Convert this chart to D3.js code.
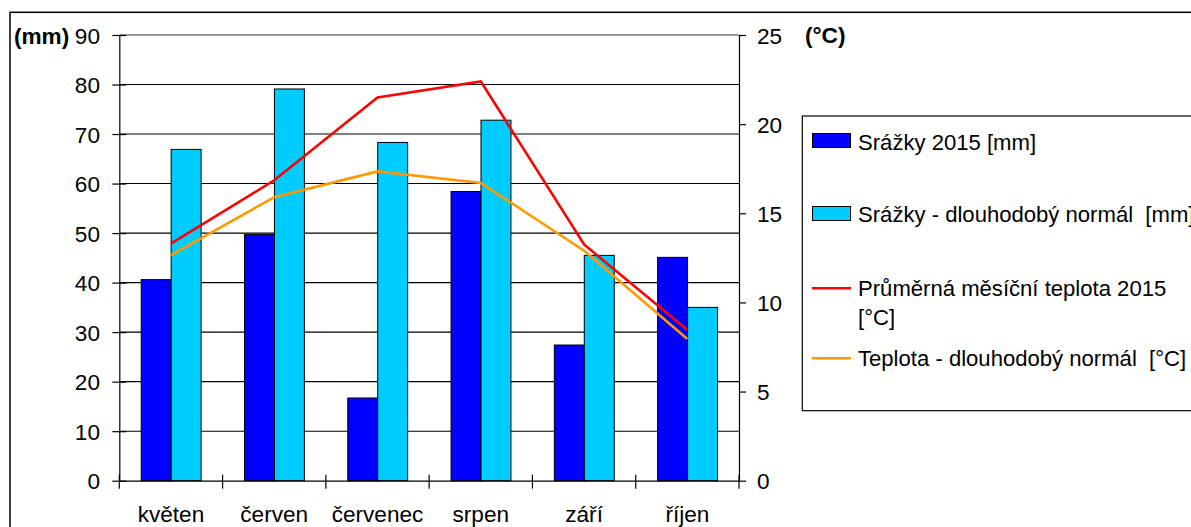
<!DOCTYPE html>
<html><head><meta charset="utf-8">
<script src="https://cdn.jsdelivr.net/npm/d3@7"></script>
<style>
html,body{margin:0;padding:0;background:#fff;}
svg{display:block;font-family:"Liberation Sans",Arial,sans-serif;}
text{white-space:pre;}
</style></head>
<body>
<svg id="chart" width="1191" height="527"></svg>
<script>
const categories = ["květen","červen","červenec","srpen","září","říjen"];
const rain2015 = [40.6, 49.7, 16.7, 58.4, 27.4, 45.1];
const rainNormal = [66.9, 79.1, 68.3, 72.8, 45.5, 35.0];
const temp2015 = [13.3, 16.85, 21.5, 22.4, 13.25, 8.45];
const tempNormal = [12.65, 15.9, 17.35, 16.7, 12.9, 7.95];
const mmTicks = [0,10,20,30,40,50,60,70,80,90];
const cTicks = [0,5,10,15,20,25];
const seriesNames = ["Srážky 2015 [mm]","Srážky - dlouhodobý normál  [mm]","Průměrná měsíční teplota 2015","Teplota - dlouhodobý normál  [°C]"];
const colors = {r15:"#0000ff", rN:"#00ccff", t15:"#ff0000", tN:"#ff9900"};

const svg = d3.select("#chart");
const L = 119.3, R = 739, T = 35, B = 480.7;
const FS = 22.6;
const LFS = 22.1;

// outer border
svg.append("rect").attr("x",10).attr("y",12.3).attr("width",1200).attr("height",540)
  .attr("fill","none").attr("stroke","#000").attr("stroke-width",1.5);

const x0 = d3.scaleBand().domain(categories).range([L,R]).padding(0);
const bw = x0.bandwidth();
const x1 = d3.scaleBand().domain(["r15","rN"]).range([bw*0.212, bw*0.792]).padding(0);
const yL = d3.scaleLinear().domain([0,90]).range([B,T]);
const yR = d3.scaleLinear().domain([0,25]).range([B,T]);

// gridlines
svg.append("g").selectAll("line").data(mmTicks.filter(d=>d>0)).join("line")
  .attr("x1",L).attr("x2",R).attr("y1",d=>yL(d)).attr("y2",d=>yL(d))
  .attr("stroke",d=>d===90?"#777":"#000").attr("stroke-width",d=>d===90?1.6:1.1);

// bars
const groups = svg.append("g").selectAll("g").data(categories).join("g")
  .attr("transform",d=>`translate(${x0(d)},0)`);
groups.append("rect").attr("x",x1("r15")).attr("width",x1.bandwidth())
  .attr("y",(d,i)=>yL(rain2015[i])).attr("height",(d,i)=>B-yL(rain2015[i]))
  .attr("fill",colors.r15).attr("stroke","#000").attr("stroke-width",1);
groups.append("rect").attr("x",x1("rN")).attr("width",x1.bandwidth())
  .attr("y",(d,i)=>yL(rainNormal[i])).attr("height",(d,i)=>B-yL(rainNormal[i]))
  .attr("fill",colors.rN).attr("stroke","#000").attr("stroke-width",1);

// axes
const axL = d3.axisLeft(yL).tickValues(mmTicks).tickSize(0).tickFormat("");
const gL = svg.append("g").attr("transform",`translate(${L},0)`).call(axL);
gL.select(".domain").attr("stroke","#000").attr("stroke-width",1.2);
gL.selectAll(".tick").append("line").attr("x1",-7).attr("x2",7).attr("stroke","#000").attr("stroke-width",1.2);
gL.selectAll(".tick").append("text")
  .attr("text-anchor","end").attr("x",100-L).attr("y",8).attr("fill","#000")
  .style("font-size",FS+"px").text(d=>d);

const axR = d3.axisRight(yR).tickValues(cTicks).tickSize(0).tickFormat("");
const gR = svg.append("g").attr("transform",`translate(${R},0)`).call(axR);
gR.select(".domain").attr("stroke","#000").attr("stroke-width",1.2);
gR.selectAll(".tick").append("line").attr("x1",0).attr("x2",7).attr("stroke","#000").attr("stroke-width",1.2);
gR.selectAll(".tick").append("text").attr("x",757-R).attr("y",8)
  .attr("text-anchor","start").attr("fill","#000").style("font-size",FS+"px").text(d=>d);

const axB = d3.axisBottom(x0).tickSize(0).tickFormat("");
const gB = svg.append("g").attr("transform",`translate(0,${B})`).call(axB);
gB.select(".domain").attr("stroke","#000").attr("stroke-width",1.2);
gB.selectAll(".tick").append("text").attr("y",522-B).attr("text-anchor","middle")
  .attr("fill","#000").style("font-size",FS+"px").text(d=>d);
const bounds = categories.map(c=>x0(c)).concat([R]);
gB.append("g").selectAll("line").data(bounds).join("line")
  .attr("x1",d=>d).attr("x2",d=>d).attr("y1",-6).attr("y2",8)
  .attr("stroke","#000").attr("stroke-width",1.2);

// lines
const cx = d => x0(d)+bw/2;
const lineGen = arr => d3.line().x((d)=>cx(d)).y((d,i)=>yR(arr[i]))(categories);
svg.append("path").attr("d",lineGen(tempNormal)).attr("fill","none")
  .attr("stroke",colors.tN).attr("stroke-width",2.6);
svg.append("path").attr("d",lineGen(temp2015)).attr("fill","none")
  .attr("stroke",colors.t15).attr("stroke-width",2.6);

// axis titles
svg.append("text").attr("x",14).attr("y",44).style("font-size",FS+"px").style("font-weight","bold").text("(mm)");
svg.append("text").attr("x",805).attr("y",43).style("font-size",FS+"px").style("font-weight","bold").text("(°C)");

// legend
svg.append("rect").attr("x",802.3).attr("y",116).attr("width",420).attr("height",294.7)
  .attr("fill","#fff").attr("stroke","#000").attr("stroke-width",1.2);
const lg = svg.append("g");
lg.append("rect").attr("x",812.5).attr("y",133.5).attr("width",38).attr("height",14)
  .attr("fill",colors.r15).attr("stroke","#000").attr("stroke-width",1);
lg.append("text").attr("x",858).attr("y",150).style("font-size",LFS+"px").text(seriesNames[0]);
lg.append("rect").attr("x",812.5).attr("y",206.5).attr("width",38).attr("height",14)
  .attr("fill",colors.rN).attr("stroke","#000").attr("stroke-width",1);
lg.append("text").attr("x",858).attr("y",221.5).style("font-size",LFS+"px").text(seriesNames[1]);
lg.append("line").attr("x1",812).attr("x2",851).attr("y1",288.3).attr("y2",288.3)
  .attr("stroke",colors.t15).attr("stroke-width",2.6);
lg.append("text").attr("x",858).attr("y",295.5).style("font-size",LFS+"px").text(seriesNames[2]);
lg.append("text").attr("x",858).attr("y",324.5).style("font-size",LFS+"px").text("[°C]");
lg.append("line").attr("x1",812).attr("x2",851).attr("y1",358.3).attr("y2",358.3)
  .attr("stroke",colors.tN).attr("stroke-width",2.6);
lg.append("text").attr("x",858).attr("y",366).style("font-size",LFS+"px").text(seriesNames[3]);
</script>
</body></html>
